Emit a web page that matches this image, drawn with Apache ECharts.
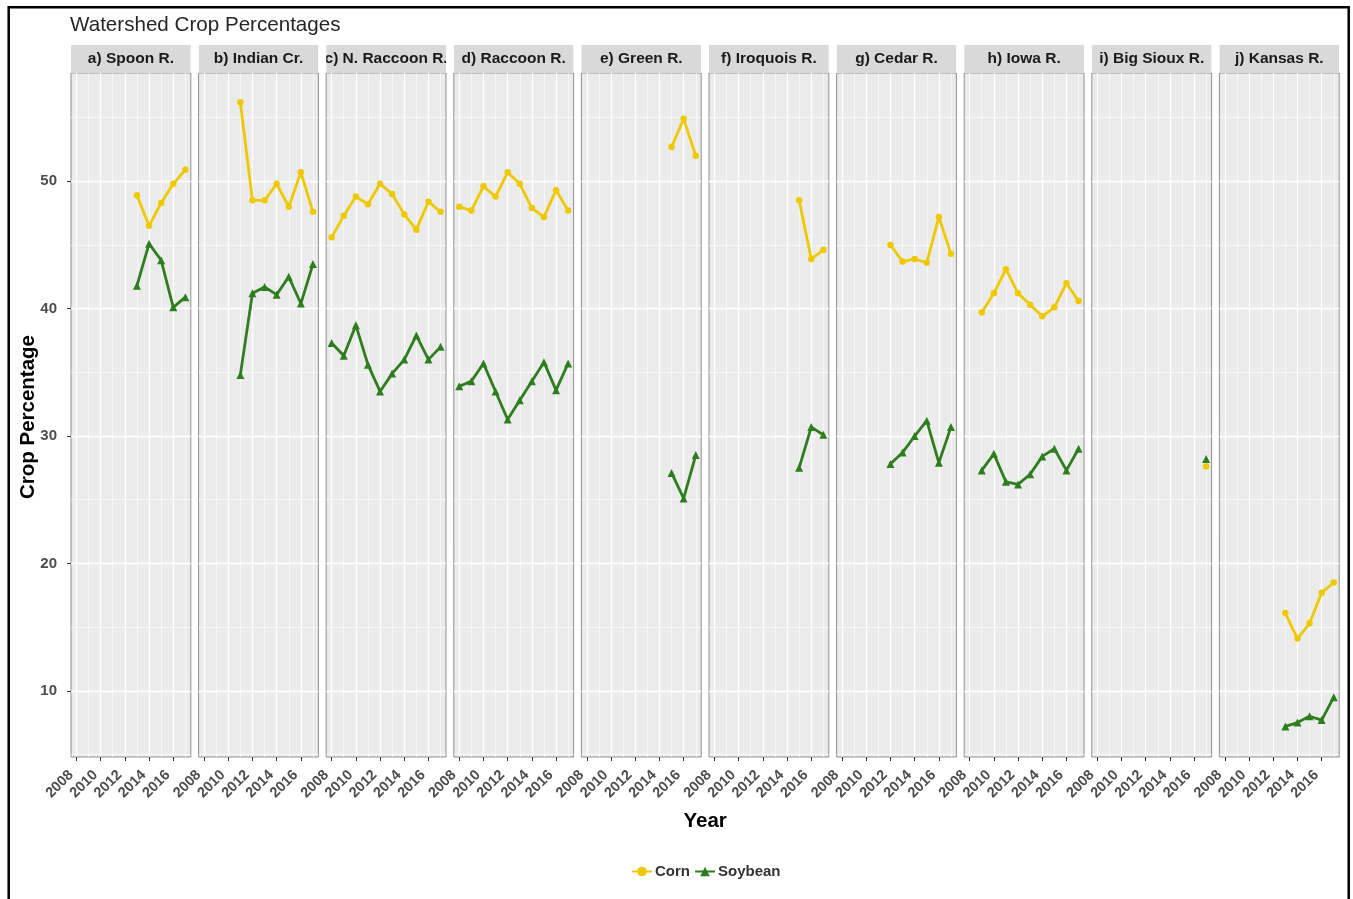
<!DOCTYPE html>
<html>
<head>
<meta charset="utf-8">
<title>Watershed Crop Percentages</title>
<script src="https://cdn.jsdelivr.net/npm/echarts@6/dist/echarts.min.js"></script>
<style>
  html, body { margin: 0; padding: 0; background: #ffffff; }
  #chart { width: 1353px; height: 899px; }
</style>
</head>
<body>
<div id="chart"></div>
<script>
// Facet labels, one panel per watershed
const panelNames = ['a) Spoon R.', 'b) Indian Cr.', 'c) N. Raccoon R.', 'd) Raccoon R.', 'e) Green R.',
  'f) Iroquois R.', 'g) Cedar R.', 'h) Iowa R.', 'i) Big Sioux R.', 'j) Kansas R.'];

// First year of record in each watershed (records run yearly to 2017)
const startYears = [2013, 2011, 2008, 2008, 2015, 2015, 2012, 2009, 2017, 2013];

// Corn share of cropland (%)
const cornValues = [
  [48.9, 46.5, 48.3, 49.8, 50.9],
  [56.2, 48.5, 48.5, 49.8, 48.0, 50.7, 47.6],
  [45.6, 47.3, 48.8, 48.2, 49.8, 49.0, 47.4, 46.2, 48.4, 47.6],
  [48.0, 47.7, 49.6, 48.8, 50.7, 49.8, 47.9, 47.2, 49.3, 47.7],
  [52.7, 54.9, 52.0],
  [48.5, 43.9, 44.6],
  [45.0, 43.7, 43.9, 43.6, 47.2, 44.3],
  [39.7, 41.2, 43.1, 41.2, 40.3, 39.4, 40.1, 42.0, 40.6],
  [27.6],
  [16.1, 14.1, 15.3, 17.7, 18.5]
];

// Soybean share of cropland (%)
const soyValues = [
  [41.8, 45.1, 43.8, 40.1, 40.9],
  [34.8, 41.2, 41.7, 41.1, 42.5, 40.4, 43.5],
  [37.3, 36.3, 38.7, 35.6, 33.5, 34.9, 36.0, 37.9, 36.0, 37.0],
  [33.9, 34.3, 35.7, 33.5, 31.3, 32.8, 34.3, 35.8, 33.6, 35.7],
  [27.1, 25.1, 28.5],
  [27.5, 30.7, 30.1],
  [27.8, 28.7, 30.0, 31.2, 27.9, 30.7],
  [27.3, 28.6, 26.4, 26.2, 27.0, 28.4, 29.0, 27.3, 29.0],
  [28.2],
  [7.2, 7.5, 8.0, 7.7, 9.5]
];

// Axis breaks
const yearTicks = [2008, 2010, 2012, 2014, 2016];
const yearMinor = [2009, 2011, 2013, 2015, 2017];
const pctTicks = [10, 20, 30, 40, 50];
const pctMinor = [5, 15, 25, 35, 45, 55];
const xRange = [2007.55, 2017.45];
const yRange = [4.8, 58.5];

// Layout
const PANEL_LEFT = 71, PANEL_STEP = 127.6, PANEL_W = 119.8;
const PANEL_TOP = 73, PANEL_H = 684;
const STRIP_TOP = 45, STRIP_H = 28;

const CORN_COLOR = '#EEC900';
const SOY_COLOR = '#2E7D1E';
const TEXT_FONT = '"Liberation Sans", Arial, sans-serif';

const grids = [], xAxes = [], yAxes = [], series = [], graphics = [];

panelNames.forEach((name, i) => {
  const left = PANEL_LEFT + i * PANEL_STEP;
  grids.push({
    left: left, top: PANEL_TOP, width: PANEL_W, height: PANEL_H,
    show: true, backgroundColor: '#EBEBEB', borderColor: '#8F8F8F', borderWidth: 1,
    containLabel: false
  });
  xAxes.push({
    type: 'value', gridIndex: i, min: xRange[0], max: xRange[1],
    axisLine: { show: false },
    splitLine: { show: false },
    axisTick: { show: true, customValues: yearTicks, length: 4, lineStyle: { color: '#333333', width: 1 } },
    axisLabel: {
      show: true, customValues: yearTicks, rotate: 45, margin: 21,
      align: 'right', verticalAlign: 'bottom',
      formatter: v => String(Math.round(v)),
      fontFamily: TEXT_FONT, fontSize: 14.5, fontWeight: 'bold', color: '#4D4D4D'
    }
  });
  yAxes.push({
    type: 'value', gridIndex: i, min: yRange[0], max: yRange[1],
    axisLine: { show: false },
    splitLine: { show: false },
    axisTick: { show: i === 0, customValues: pctTicks, length: 4, lineStyle: { color: '#333333', width: 1 } },
    axisLabel: {
      show: i === 0, customValues: pctTicks, margin: 14,
      formatter: v => String(Math.round(v)),
      fontFamily: TEXT_FONT, fontSize: 15, fontWeight: 'bold', color: '#4D4D4D'
    }
  });

  // panel grid lines (major and minor) drawn on the panel scales
  const gridLines = [];
  pctMinor.forEach(v => gridLines.push({ yAxis: v, lineStyle: { width: 0.6 } }));
  yearMinor.forEach(v => gridLines.push({ xAxis: v, lineStyle: { width: 0.6 } }));
  pctTicks.forEach(v => gridLines.push({ yAxis: v, lineStyle: { width: 1.3 } }));
  yearTicks.forEach(v => gridLines.push({ xAxis: v, lineStyle: { width: 1.3 } }));
  series.push({
    type: 'line', xAxisIndex: i, yAxisIndex: i, data: [], silent: true, z: 1,
    markLine: {
      silent: true, animation: false, symbol: ['none', 'none'], z: 1,
      label: { show: false }, emphasis: { disabled: true },
      lineStyle: { color: '#FFFFFF', type: 'solid', opacity: 1 },
      data: gridLines
    }
  });

  const cornData = cornValues[i].map((v, k) => [startYears[i] + k, v]);
  const soyData = soyValues[i].map((v, k) => [startYears[i] + k, v]);
  series.push({
    name: 'Corn', type: 'line', xAxisIndex: i, yAxisIndex: i, data: cornData, z: 3,
    color: CORN_COLOR, symbol: 'circle', symbolSize: 6.5, showSymbol: true,
    lineStyle: { width: 2.8, color: CORN_COLOR }, itemStyle: { color: CORN_COLOR },
    emphasis: { disabled: true }, animation: false
  });
  series.push({
    name: 'Soybean', type: 'line', xAxisIndex: i, yAxisIndex: i, data: soyData, z: 3,
    color: SOY_COLOR, symbol: 'triangle', symbolSize: 8, showSymbol: true,
    lineStyle: { width: 2.8, color: SOY_COLOR }, itemStyle: { color: SOY_COLOR },
    emphasis: { disabled: true }, animation: false
  });

  // facet strip with its label
  graphics.push({
    type: 'rect', z: 10, silent: true,
    shape: { x: left, y: STRIP_TOP, width: PANEL_W, height: STRIP_H },
    style: { fill: '#D9D9D9' }
  });
  graphics.push({
    type: 'text', z: 11, silent: true,
    x: left + PANEL_W / 2, y: STRIP_TOP + STRIP_H / 2,
    style: {
      text: name, fill: '#1A1A1A', font: 'bold 15.5px ' + TEXT_FONT,
      textAlign: 'center', textVerticalAlign: 'middle'
    }
  });
  // white gutter to clip strip labels that run past the strip
  graphics.push({
    type: 'rect', z: 12, silent: true,
    shape: { x: left + PANEL_W, y: STRIP_TOP - 2, width: PANEL_STEP - PANEL_W, height: STRIP_H + 2 },
    style: { fill: '#FFFFFF' }
  });
  if (i === 0) {
    graphics.push({
      type: 'rect', z: 12, silent: true,
      shape: { x: left - 12, y: STRIP_TOP - 2, width: 12, height: STRIP_H + 2 },
      style: { fill: '#FFFFFF' }
    });
  }
});

// titles and outer frame
graphics.push({
  type: 'text', z: 13, silent: true, x: 70, y: 25,
  style: { text: 'Watershed Crop Percentages', fill: '#262626', font: '20.6px ' + TEXT_FONT, textAlign: 'left', textVerticalAlign: 'middle' }
});
graphics.push({
  type: 'text', z: 13, silent: true, x: 28, y: PANEL_TOP + PANEL_H / 2 + 2, rotation: Math.PI / 2,
  style: { text: 'Crop Percentage', fill: '#000000', font: 'bold 20.5px ' + TEXT_FONT, textAlign: 'center', textVerticalAlign: 'middle' }
});
graphics.push({
  type: 'text', z: 13, silent: true, x: PANEL_LEFT + (9 * PANEL_STEP + PANEL_W) / 2, y: 821,
  style: { text: 'Year', fill: '#000000', font: 'bold 20.5px ' + TEXT_FONT, textAlign: 'center', textVerticalAlign: 'middle' }
});
graphics.push({
  type: 'rect', z: 14, silent: true,
  shape: { x: 8.7, y: 7.2, width: 1340, height: 1000 },
  style: { fill: 'none', stroke: '#000000', lineWidth: 2.5 }
});

const chart = echarts.init(document.getElementById('chart'), null, { renderer: 'canvas' });
chart.setOption({
  animation: false,
  backgroundColor: '#FFFFFF',
  grid: grids,
  xAxis: xAxes,
  yAxis: yAxes,
  series: series,
  legend: {
    data: ['Corn', 'Soybean'],
    left: 631, top: 864, orient: 'horizontal', padding: 0,
    itemWidth: 20, itemHeight: 12, itemGap: 4,
    selectedMode: false,
    textStyle: { fontFamily: TEXT_FONT, fontSize: 15, fontWeight: 'bold', color: '#333333', padding: [0, 0, 0, -2] }
  },
  graphic: graphics
});
</script>
</body>
</html>
